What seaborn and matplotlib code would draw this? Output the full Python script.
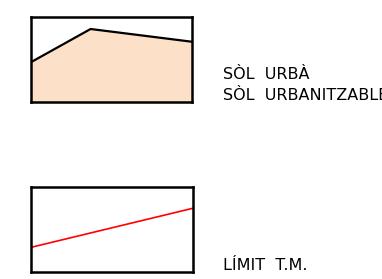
import matplotlib
matplotlib.use("Agg")
import matplotlib.pyplot as plt
import seaborn as sns
import pandas as pd

sns.set_theme(style="white")
plt.rcParams['font.family'] = ['Liberation Sans Narrow', 'DejaVu Sans']

# Legend sample data (axis fraction units)
urba_x = [0.0, 0.37, 1.0]
urba_y = [0.47, 0.86, 0.71]
limit_x = [0.0, 1.0]
limit_y = [0.29, 0.75]
labels = ["SÒL  URBÀ", "SÒL  URBANITZABLE", "LÍMIT  T.M."]

fig = plt.figure(figsize=(3.82, 2.79), dpi=100)

ax1 = fig.add_axes([0.0812, 0.634, 0.4215, 0.3047])
df1 = pd.DataFrame({"x": urba_x, "y": urba_y})
ax1.fill_between(df1["x"], df1["y"], 0, color="#FCE1C8", linewidth=0)
sns.lineplot(data=df1, x="x", y="y", ax=ax1, color="black", linewidth=1.6, sort=False)

ax2 = fig.add_axes([0.0812, 0.0251, 0.424, 0.3047])
df2 = pd.DataFrame({"x": limit_x, "y": limit_y})
sns.lineplot(data=df2, x="x", y="y", ax=ax2, color="#FF0000", linewidth=1.2, sort=False)

for ax in (ax1, ax2):
    ax.set_xlim(0, 1)
    ax.set_ylim(0, 1)
    ax.set_xticks([])
    ax.set_yticks([])
    ax.set_xlabel("")
    ax.set_ylabel("")
    for s in ax.spines.values():
        s.set_visible(True)
        s.set_color("black")
        s.set_linewidth(1.8)

fig.text(0.584, 0.733, labels[0], fontsize=11.5, va="center", ha="left", color="black")
fig.text(0.584, 0.659, labels[1], fontsize=11.5, va="center", ha="left", color="black")
fig.text(0.584, 0.047, labels[2], fontsize=11.5, va="center", ha="left", color="black")

fig.savefig("out.png", dpi=100, facecolor="white")
